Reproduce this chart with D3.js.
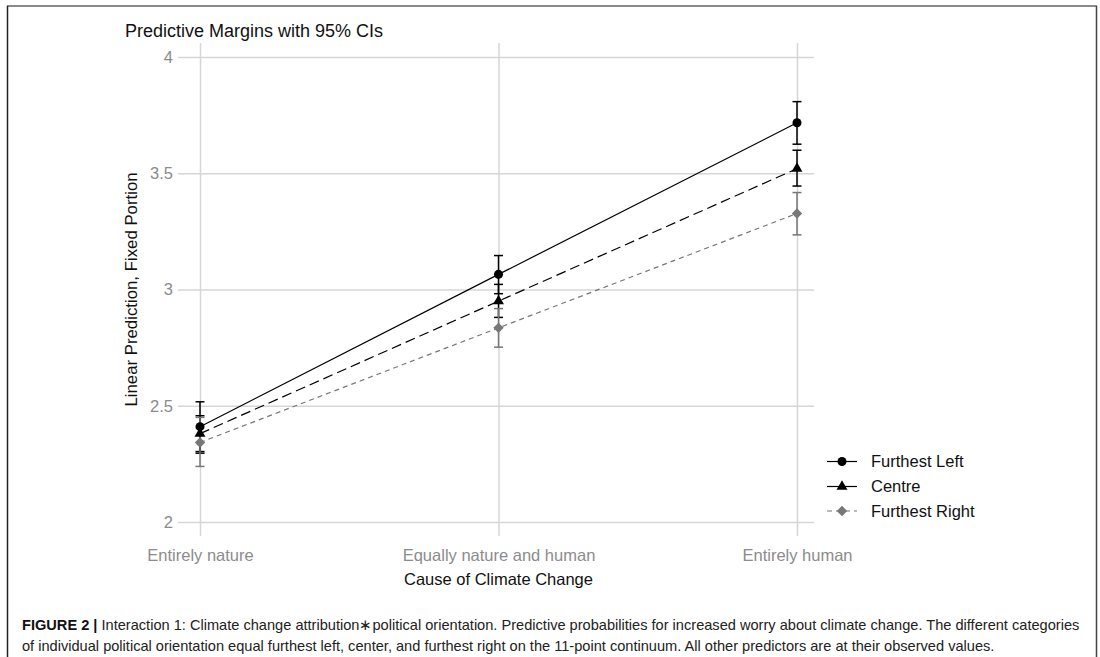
<!DOCTYPE html>
<html>
<head>
<meta charset="utf-8">
<script src="https://cdn.jsdelivr.net/npm/d3@7"></script>
<style>
  html, body { margin: 0; padding: 0; background: #fff; }
  svg { display: block; font-family: "Liberation Sans", Arial, Helvetica, sans-serif; }
</style>
</head>
<body>
<svg id="chart" width="1100" height="657"></svg>
<script>
// ---------------- data ----------------
const categories = ["Entirely nature", "Equally nature and human", "Entirely human"];
const seriesNames = ["Furthest Left", "Centre", "Furthest Right"];

const leftMean = [2.41, 3.065, 3.717];
const leftLow  = [2.303, 2.982, 3.625];
const leftHigh = [2.517, 3.146, 3.808];

const centreMean = [2.380, 2.950, 3.520];
const centreLow  = [2.296, 2.880, 3.445];
const centreHigh = [2.457, 3.022, 3.599];

const rightMean = [2.342, 2.835, 3.327];
const rightLow  = [2.239, 2.752, 3.235];
const rightHigh = [2.450, 2.918, 3.417];

const yTicks = [2, 2.5, 3, 3.5, 4];
const yTickLabels = ["2", "2.5", "3", "3.5", "4"];

const chartTitle = "Predictive Margins with 95% CIs";
const yTitle = "Linear Prediction, Fixed Portion";
const xTitle = "Cause of Climate Change";
const captionBold = "FIGURE 2 |";
const captionLine1 = " Interaction 1: Climate change attribution\u2217political orientation. Predictive probabilities for increased worry about climate change. The different categories";
const captionLine2 = "of individual political orientation equal furthest left, center, and furthest right on the 11-point continuum. All other predictors are at their observed values.";

// ---------------- layout ----------------
const svg = d3.select("#chart");
const plotLeft = 178, plotRight = 814, plotTop = 43, plotBottom = 536;

const x = d3.scalePoint().domain(categories).range([200, 797]);
const y = d3.scaleLinear().domain([2, 4]).range([522, 57]);

const gridColor = "#d6d6d6";
const tickColor = "#8c8c8c";

// frame
svg.append("line").attr("x1", 7).attr("x2", 1097).attr("y1", 6).attr("y2", 6)
  .attr("stroke", "#8a8a8a").attr("stroke-width", 2);
svg.append("line").attr("x1", 7.5).attr("x2", 7.5).attr("y1", 6).attr("y2", 657)
  .attr("stroke", "#222").attr("stroke-width", 1.5);
svg.append("line").attr("x1", 1096.5).attr("x2", 1096.5).attr("y1", 6).attr("y2", 657)
  .attr("stroke", "#444").attr("stroke-width", 1.5);

// y axis + horizontal grid
const yAxis = d3.axisLeft(y)
  .tickValues(yTicks)
  .tickFormat((d, i) => yTickLabels[i])
  .tickSizeInner(-(plotRight - plotLeft))
  .tickSizeOuter(0)
  .tickPadding(5);
const gy = svg.append("g").attr("transform", `translate(${plotLeft},0)`).call(yAxis);
gy.select(".domain").remove();
gy.selectAll(".tick line").attr("stroke", gridColor).attr("stroke-width", 1.5);
gy.selectAll(".tick text").attr("fill", tickColor).style("font-size", "16.5px");

// x axis + vertical grid
const xAxis = d3.axisBottom(x)
  .tickSizeInner(-(plotBottom - plotTop))
  .tickSizeOuter(0)
  .tickPadding(13);
const gx = svg.append("g").attr("transform", `translate(0,${plotBottom})`).call(xAxis);
gx.select(".domain").remove();
gx.selectAll(".tick line").attr("stroke", gridColor).attr("stroke-width", 1.5);
gx.selectAll(".tick text").attr("fill", tickColor).style("font-size", "16.5px");

// titles
svg.append("text").attr("x", 125).attr("y", 37).text(chartTitle)
  .style("font-size", "18px").attr("fill", "#111");
svg.append("text")
  .attr("transform", `translate(137,${y(3)}) rotate(-90)`)
  .attr("text-anchor", "middle").text(yTitle)
  .style("font-size", "16.8px").attr("fill", "#111");
svg.append("text").attr("x", x(categories[1])).attr("y", 585)
  .attr("text-anchor", "middle").text(xTitle)
  .style("font-size", "16.5px").attr("fill", "#111");

// ---------------- series ----------------
const series = [
  { name: seriesNames[0], mean: leftMean, low: leftLow, high: leftHigh, color: "#000", dash: null, legendDash: null, symbol: d3.symbolCircle, size: 64, rot: 0 },
  { name: seriesNames[1], mean: centreMean, low: centreLow, high: centreHigh, color: "#000", dash: "10,5", legendDash: null, symbol: d3.symbolTriangle, size: 52, rot: 0 },
  { name: seriesNames[2], mean: rightMean, low: rightLow, high: rightHigh, color: "#777", dash: "5,4", legendDash: "5,4", symbol: d3.symbolSquare, size: 54, rot: 45 }
];

const line = d3.line().x(d => x(d.cat)).y(d => y(d.v));
const capHalf = 4.5;

series.forEach(s => {
  const pts = categories.map((c, i) => ({ cat: c, v: s.mean[i], lo: s.low[i], hi: s.high[i] }));
  const g = svg.append("g");
  g.append("path").datum(pts).attr("d", line)
    .attr("fill", "none").attr("stroke", s.color).attr("stroke-width", 1.2)
    .attr("stroke-dasharray", s.dash);
  pts.forEach(p => {
    const cx = x(p.cat);
    g.append("line").attr("x1", cx).attr("x2", cx).attr("y1", y(p.lo)).attr("y2", y(p.hi))
      .attr("stroke", s.color).attr("stroke-width", 1.5);
    [p.lo, p.hi].forEach(v => {
      g.append("line").attr("x1", cx - capHalf).attr("x2", cx + capHalf).attr("y1", y(v)).attr("y2", y(v))
        .attr("stroke", s.color).attr("stroke-width", 1.5);
    });
  });
  s.pts = pts;
});
series.forEach(s => {
  svg.append("g").selectAll("path").data(s.pts).join("path")
    .attr("d", d3.symbol().type(s.symbol).size(s.size))
    .attr("transform", d => `translate(${x(d.cat)},${y(d.v)}) rotate(${s.rot})`)
    .attr("fill", s.color);
});

// ---------------- legend ----------------
const legendRows = [461.5, 486.5, 511];
const lg = svg.append("g");
series.forEach((s, i) => {
  const ly = legendRows[i];
  lg.append("line").attr("x1", 827).attr("x2", 857).attr("y1", ly).attr("y2", ly)
    .attr("stroke", s.color).attr("stroke-width", 1.2).attr("stroke-dasharray", s.legendDash);
  lg.append("path").attr("d", d3.symbol().type(s.symbol).size(s.size))
    .attr("transform", `translate(842,${ly}) rotate(${s.rot})`).attr("fill", s.color);
  lg.append("text").attr("x", 871).attr("y", ly).attr("dy", "0.35em")
    .text(s.name).style("font-size", "16.5px").attr("fill", "#111");
});

// ---------------- caption ----------------
const cap1 = svg.append("text").attr("x", 22).attr("y", 630).style("font-size", "14.6px").attr("fill", "#222");
cap1.append("tspan").attr("font-weight", "bold").attr("fill", "#111").text(captionBold);
cap1.append("tspan").text(captionLine1);
svg.append("text").attr("x", 22).attr("y", 651).style("font-size", "14.6px").attr("fill", "#222")
  .text(captionLine2);
</script>
</body>
</html>
